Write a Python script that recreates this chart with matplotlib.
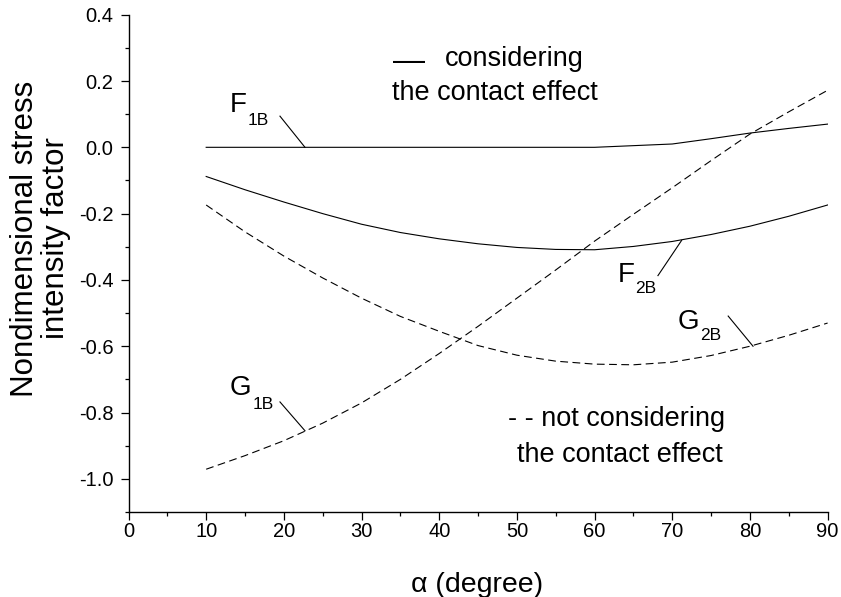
import matplotlib
matplotlib.use("Agg")
import matplotlib.pyplot as plt
from matplotlib.ticker import MultipleLocator

plt.rcParams['font.family'] = ['Liberation Sans', 'DejaVu Sans']
plt.rcParams['axes.unicode_minus'] = False

# angle of the crack (degree)
alpha = [10, 15, 20, 25, 30, 35, 40, 45, 50, 55, 60, 65, 70, 75, 80, 85, 90]

# considering the contact effect (solid)
F1B = [0.0, 0.0, 0.0, 0.0, 0.0, 0.0, 0.0, 0.0, 0.0, 0.0, 0.0,
       0.005, 0.01, 0.026, 0.043, 0.057, 0.07]
F2B = [-0.088, -0.128, -0.165, -0.2, -0.232, -0.257, -0.276, -0.291, -0.302,
       -0.308, -0.309, -0.299, -0.284, -0.263, -0.238, -0.208, -0.174]

# not considering the contact effect (dashed)
G1B = [-0.971, -0.93, -0.885, -0.832, -0.771, -0.70, -0.622, -0.54, -0.455,
       -0.37, -0.283, -0.202, -0.122, -0.04, 0.04, 0.107, 0.172]
G2B = [-0.174, -0.255, -0.328, -0.394, -0.455, -0.51, -0.555, -0.598, -0.627,
       -0.645, -0.654, -0.656, -0.648, -0.628, -0.600, -0.567, -0.53]

# label text, label base positions, leader line (from, to)
labels = [
    ("F", "1B", (13.07, 0.106), (15.38, 0.067), (19.5, 0.094), (22.72, 0.0)),
    ("F", "2B", (63.0, -0.405), (65.2, -0.438), (68.16, -0.387), (71.2, -0.281)),
    ("G", "2B", (70.74, -0.549), (73.57, -0.582), (77.2, -0.509), (80.4, -0.600)),
    ("G", "1B", (13.07, -0.748), (16.03, -0.790), (19.5, -0.768), (22.72, -0.855)),
]

W, H = 841, 597
fig = plt.figure(figsize=(W / 100, H / 100), dpi=100)
ax = fig.add_axes([128.5 / W, 1 - 512 / H, (827.6 - 128.5) / W, (512 - 14.7) / H])

dash = (0, (7, 4))
ax.plot(alpha, F1B, color='black', lw=0.8)
ax.plot(alpha, F2B, color='black', lw=0.8)
ax.plot(alpha, G1B, color='black', lw=0.8, ls=dash)
ax.plot(alpha, G2B, color='black', lw=0.8, ls=dash)

for main, sub, pm, ps, p0, p1 in labels:
    ax.text(pm[0], pm[1], main, fontsize=20, ha='left', va='baseline')
    ax.text(ps[0], ps[1], sub, fontsize=12.5, ha='left', va='baseline')
    ax.plot([p0[0], p1[0]], [p0[1], p1[1]], color='black', lw=0.8)

# legend-like notes
ax.text(34.0, 0.233, "\u2014", fontsize=23, ha='left', va='baseline')
ax.text(40.74, 0.2445, "considering", fontsize=19.5, ha='left', va='baseline')
ax.text(33.9, 0.142, "the contact effect", fontsize=19.5, ha='left', va='baseline')
ax.text(48.86, -0.840, "- - not considering", fontsize=19.5, ha='left', va='baseline')
ax.text(50.0, -0.949, "the contact effect", fontsize=19.5, ha='left', va='baseline')

ax.set_xlim(0, 90)
ax.set_ylim(-1.1, 0.4)
ax.xaxis.set_major_locator(MultipleLocator(10))
ax.xaxis.set_minor_locator(MultipleLocator(5))
ax.yaxis.set_major_locator(MultipleLocator(0.2))
ax.yaxis.set_minor_locator(MultipleLocator(0.1))
ax.yaxis.set_major_formatter(plt.FormatStrFormatter('%.1f'))

for s in ['top', 'right']:
    ax.spines[s].set_visible(False)
for s in ['left', 'bottom']:
    ax.spines[s].set_linewidth(1.0)

ax.tick_params(which='major', direction='out', length=5.8, width=0.9, labelsize=14.5)
ax.tick_params(which='minor', direction='out', length=2.9, width=0.9)
ax.tick_params(axis='x', which='major', pad=1.5)
ax.tick_params(axis='y', which='major', pad=5)

fig.text(40.5 / W, 1 - 238.5 / H, "Nondimensional stress\nintensity factor",
         rotation=90, ha='center', va='center', multialignment='center',
         fontsize=22.5, linespacing=1.05)
fig.text(477.5 / W, 1 - 591.7 / H, "\u03b1 (degree)", fontsize=20.5,
         ha='center', va='baseline')

fig.savefig("out.png", dpi=100)
